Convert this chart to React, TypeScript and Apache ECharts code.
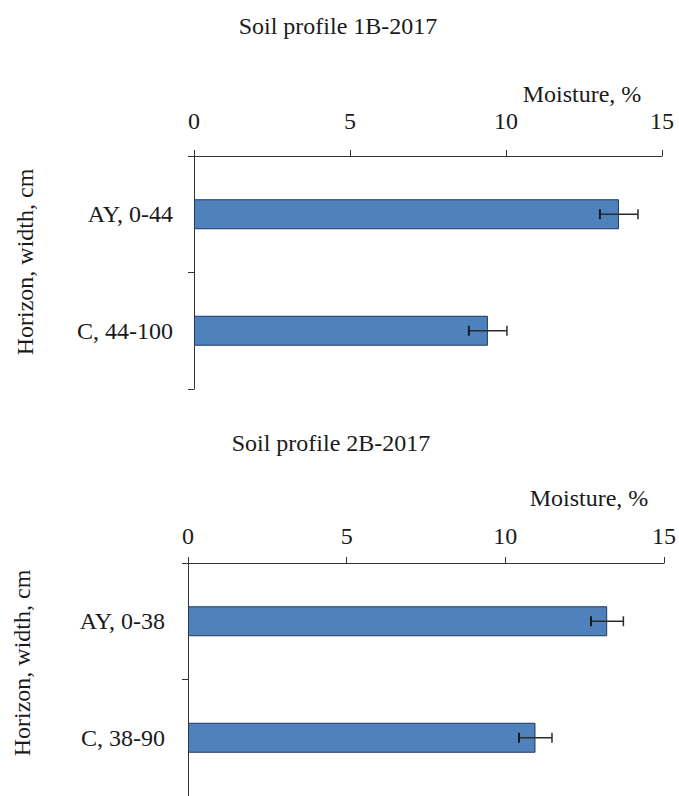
import React, { useEffect, useRef } from "react";
import * as echarts from "echarts";

const titles = ["Soil profile 1B-2017", "Soil profile 2B-2017"];
const xAxisName = "Moisture, %";
const yAxisName = "Horizon, width, cm";
const categories1 = ["AY, 0-44", "C, 44-100"];
const values1 = [13.62, 9.42];
const errors1 = [0.61, 0.61];
const categories2 = ["AY, 0-38", "C, 38-90"];
const values2 = [13.21, 10.95];
const errors2 = [0.51, 0.52];
const xMin = 0;
const xMax = 15;
const xInterval = 5;

const FONT = "'Liberation Serif', 'Times New Roman', serif";
const FS = 24;
const TEXT = "#1a1a1a";
const AXIS = "#333333";

function errRender(params: any, api: any) {
  const v = api.value(0);
  const c = api.value(1);
  const e = api.value(2);
  const l = api.coord([v - e, c]);
  const r = api.coord([v + e, c]);
  const h = 5;
  const st = { stroke: "#2b2b2b", lineWidth: 1.5 };
  return {
    type: "group",
    children: [
      { type: "line", shape: { x1: l[0], y1: l[1], x2: r[0], y2: r[1] }, style: st },
      { type: "line", shape: { x1: l[0], y1: l[1] - h, x2: l[0], y2: l[1] + h }, style: { stroke: "#1a1a1a", lineWidth: 2 } },
      { type: "line", shape: { x1: r[0], y1: r[1] - h, x2: r[0], y2: r[1] + h }, style: st },
    ],
  };
}

function xAxisCfg(gridIndex: number, margin: number) {
  return {
    type: "value",
    gridIndex,
    position: "top",
    min: xMin,
    max: xMax,
    interval: xInterval,
    splitLine: { show: false },
    axisLine: { show: true, lineStyle: { color: AXIS, width: 1 } },
    axisTick: { show: true, inside: false, length: 6, lineStyle: { color: AXIS } },
    axisLabel: { color: TEXT, fontFamily: FONT, fontSize: FS, margin },
  };
}

function yAxisCfg(gridIndex: number, data: string[], margin: number) {
  return {
    type: "category",
    gridIndex,
    data,
    inverse: true,
    axisLine: { show: true, lineStyle: { color: AXIS, width: 1 } },
    axisTick: { show: true, inside: false, length: 6, lineStyle: { color: AXIS } },
    axisLabel: { color: TEXT, fontFamily: FONT, fontSize: FS, margin },
    splitLine: { show: false },
  };
}

export default function App() {
  const ref = useRef<HTMLDivElement>(null);
  useEffect(() => {
    if (!ref.current) return;
    const chart = echarts.init(ref.current, undefined, { renderer: "svg" });
    const barStyle = { color: "#4f81bd", borderColor: "#1f3a5f", borderWidth: 1 };
    const txt = (text: string, x: number, y: number, rotation = 0) => ({
      type: "text",
      x,
      y,
      rotation,
      style: { text, fill: TEXT, font: `${FS}px ${FONT}`, align: "center", verticalAlign: "middle" },
    });
    chart.setOption({
      animation: false,
      backgroundColor: "#ffffff",
      grid: [
        { left: 194, top: 156, width: 468, height: 233 },
        { left: 188, top: 563, width: 478, height: 238 },
      ],
      xAxis: [xAxisCfg(0, 23), xAxisCfg(1, 15)],
      yAxis: [yAxisCfg(0, categories1, 21), yAxisCfg(1, categories2, 23)],
      series: [
        {
          type: "bar",
          xAxisIndex: 0,
          yAxisIndex: 0,
          data: values1,
          barWidth: 30,
          itemStyle: barStyle,
        },
        {
          type: "custom",
          xAxisIndex: 0,
          yAxisIndex: 0,
          renderItem: errRender,
          encode: { x: 0, y: 1 },
          data: values1.map((v, i) => [v, i, errors1[i]]),
          z: 10,
        },
        {
          type: "bar",
          xAxisIndex: 1,
          yAxisIndex: 1,
          data: values2,
          barWidth: 30,
          itemStyle: barStyle,
        },
        {
          type: "custom",
          xAxisIndex: 1,
          yAxisIndex: 1,
          renderItem: errRender,
          encode: { x: 0, y: 1 },
          data: values2.map((v, i) => [v, i, errors2[i]]),
          z: 10,
        },
      ],
      graphic: [
        txt(titles[0], 338, 26),
        txt(titles[1], 331, 443),
        txt(xAxisName, 582, 94),
        txt(xAxisName, 589, 498),
        txt(yAxisName, 25, 262, Math.PI / 2),
        txt(yAxisName, 22, 663, Math.PI / 2),
      ],
    });
    return () => chart.dispose();
  }, []);
  return (
    <div
      ref={ref}
      style={{ position: "absolute", left: 0, top: 0, width: 679, height: 796 }}
    />
  );
}
